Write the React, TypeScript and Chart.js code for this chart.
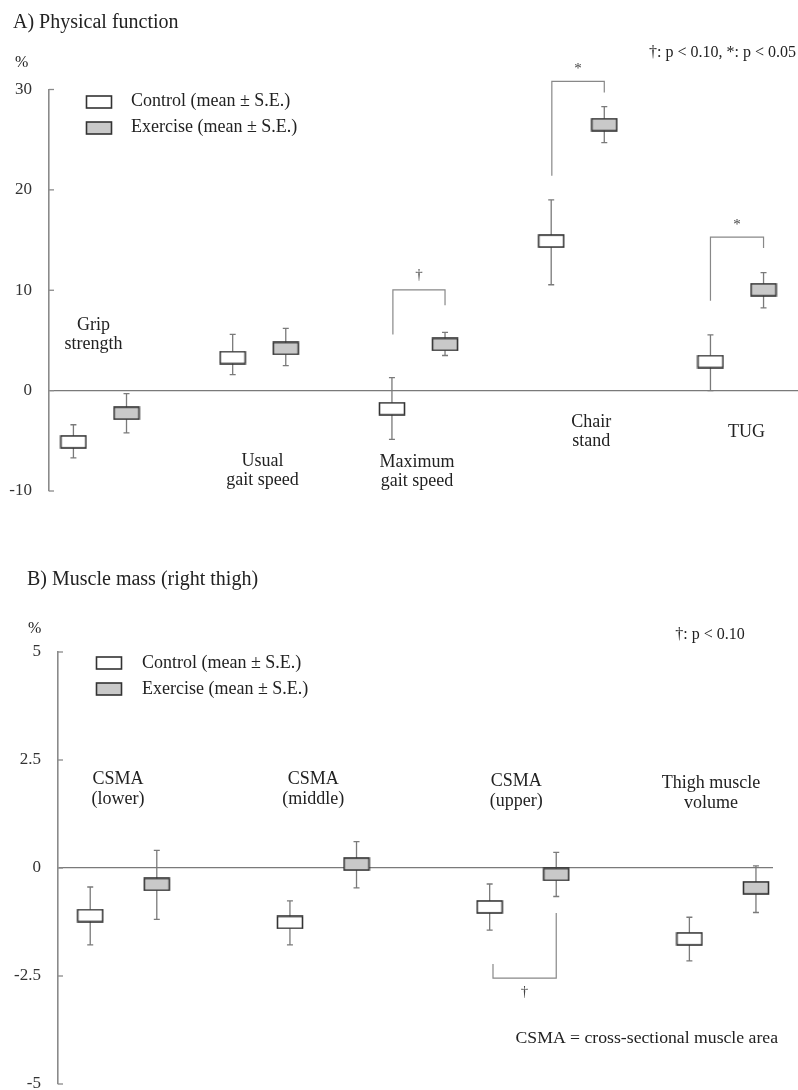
import React, { useEffect, useRef } from "react";
import { Chart, registerables } from "chart.js";

Chart.register(...registerables);

// ---------------- Panel A: Physical function ----------------
const categoriesA = [["Grip", "strength"], ["Usual", "gait speed"], ["Maximum", "gait speed"], ["Chair", "stand"], ["TUG"]];
const controlMeanA = [-5.1, 3.3, -1.8, 14.9, 2.9];
const controlLowA = [-6.7, 1.6, -4.85, 10.55, 0.0];
const controlHighA = [-3.4, 5.6, 1.3, 19.0, 5.55];
const exerciseMeanA = [-2.25, 4.2, 4.6, 26.5, 10.05];
const exerciseLowA = [-4.2, 2.5, 3.5, 24.7, 8.25];
const exerciseHighA = [-0.3, 6.2, 5.8, 28.3, 11.75];
const yTicksA = [-10, 0, 10, 20, 30];
const labelXA = [-0.04, 1.02, 1.99, 3.085, 4.06];
const labelYA = [6.5, -7.0, -7.1, -3.2, -4.1];
const bracketsA = [
  { from: 2 - 1 / 6 + 0.006, to: 2 + 1 / 6, top: 10.03, leftEnd: 5.6, rightEnd: 8.5, mark: "†", markY: 11.16 },
  { from: 3 - 1 / 6 + 0.004, to: 3 + 1 / 6, top: 30.8, leftEnd: 21.4, rightEnd: 29.7, mark: "*", markY: 31.67 },
  { from: 4 - 1 / 6, to: 4 + 1 / 6, top: 15.3, leftEnd: 8.96, rightEnd: 14.2, mark: "*", markY: 16.13 },
];

// ---------------- Panel B: Muscle mass ----------------
const categoriesB = [["CSMA", "(lower)"], ["CSMA", "(middle)"], ["CSMA", "(upper)"], ["Thigh muscle", "volume"]];
const controlMeanB = [-1.1, -1.26, -0.9, -1.64];
const controlLowB = [-1.78, -1.78, -1.44, -2.15];
const controlHighB = [-0.44, -0.76, -0.37, -1.14];
const exerciseMeanB = [-0.38, 0.09, -0.15, -0.46];
const exerciseLowB = [-1.19, -0.46, -0.66, -1.03];
const exerciseHighB = [0.41, 0.61, 0.36, 0.05];
const yTicksB = [-5, -2.5, 0, 2.5, 5];
const labelXB = [-0.028, 0.95, 1.967, 2.942];
const labelYB = [2.06, 2.06, 2.01, 1.97];
const bracketsB = [
  { from: 1.85, to: 2 + 1 / 6, top: -2.55, leftEnd: -2.22, rightEnd: -1.04, mark: "†", markY: -2.96 },
];

const seriesLabels = ["Control (mean ± S.E.)", "Exercise (mean ± S.E.)"];

const FONT = "'Liberation Serif', 'Times New Roman', serif";
const X_OFFSET = 1 / 6;
const AXIS_COLOR = "#8a8a8a";
const WHISKER_COLOR = "#7a7a7a";
const TEXT_COLOR = "#222";

function makeBox(fill: string) {
  const c = document.createElement("canvas");
  c.width = 28;
  c.height = 14;
  const g = c.getContext("2d")!;
  g.fillStyle = fill;
  g.fillRect(1.5, 1, 25, 12);
  g.strokeStyle = "#333";
  g.lineWidth = 1.6;
  g.strokeRect(1.5, 1, 25, 12);
  return c;
}

const errorBarsPlugin = {
  id: "errorBars",
  beforeDatasetsDraw(chart: any) {
    const { ctx } = chart;
    const x = chart.scales.x;
    const y = chart.scales.y;
    ctx.save();
    ctx.strokeStyle = WHISKER_COLOR;
    ctx.lineWidth = 1.3;
    chart.data.datasets.forEach((ds: any) => {
      ds.data.forEach((p: any) => {
        const px = x.getPixelForValue(p.x);
        const lo = y.getPixelForValue(p.lo);
        const hi = y.getPixelForValue(p.hi);
        ctx.beginPath();
        ctx.moveTo(px, lo);
        ctx.lineTo(px, hi);
        ctx.moveTo(px - 3, lo);
        ctx.lineTo(px + 3, lo);
        ctx.moveTo(px - 3, hi);
        ctx.lineTo(px + 3, hi);
        ctx.stroke();
      });
    });
    ctx.restore();
  },
};

type PanelCfg = {
  cats: string[][];
  cMean: number[]; cLow: number[]; cHigh: number[];
  eMean: number[]; eLow: number[]; eHigh: number[];
  yTicks: number[];
  labelX: number[]; labelY: number[];
  brackets: { from: number; to: number; top: number; leftEnd: number; rightEnd: number; mark: string; markY: number }[];
  xMin: number; xMax: number;
  axisW: number; padTop: number; padBottom: number; padRight: number;
  legendDX: number; legendDY: number; legendTextDX: number;
  labelLineH: number;
  draw: (ctx: CanvasRenderingContext2D) => void;
};

function buildChart(canvas: HTMLCanvasElement, P: PanelCfg) {
  const white = makeBox("#ffffff");
  const gray = makeBox("#c9c9c9");
  const annot = {
    id: "annot",
    afterDraw(chart: any) {
      const { ctx, chartArea } = chart;
      const x = chart.scales.x;
      const y = chart.scales.y;
      ctx.save();
      // inward tick marks
      ctx.strokeStyle = AXIS_COLOR;
      ctx.lineWidth = 1.3;
      y.ticks.forEach((t: any) => {
        const py = y.getPixelForValue(t.value);
        ctx.beginPath();
        ctx.moveTo(chartArea.left, py);
        ctx.lineTo(chartArea.left + 5, py);
        ctx.stroke();
      });
      // significance brackets
      ctx.strokeStyle = "#888";
      ctx.lineWidth = 1.2;
      P.brackets.forEach((b) => {
        const x1 = x.getPixelForValue(b.from);
        const x2 = x.getPixelForValue(b.to);
        const yt = y.getPixelForValue(b.top);
        ctx.beginPath();
        ctx.moveTo(x1, y.getPixelForValue(b.leftEnd));
        ctx.lineTo(x1, yt);
        ctx.lineTo(x2, yt);
        ctx.lineTo(x2, y.getPixelForValue(b.rightEnd));
        ctx.stroke();
        ctx.fillStyle = "#444";
        ctx.font = `15px ${FONT}`;
        ctx.textAlign = "center";
        ctx.textBaseline = "alphabetic";
        ctx.fillText(b.mark, (x1 + x2) / 2, y.getPixelForValue(b.markY));
      });
      // category labels
      ctx.fillStyle = TEXT_COLOR;
      ctx.font = `18px ${FONT}`;
      ctx.textAlign = "center";
      ctx.textBaseline = "middle";
      P.cats.forEach((lines, i) => {
        const px = x.getPixelForValue(P.labelX[i]);
        const py = y.getPixelForValue(P.labelY[i]);
        lines.forEach((ln, j) => ctx.fillText(ln, px, py + j * P.labelLineH));
      });
      // legend
      ctx.font = `18px ${FONT}`;
      ctx.textAlign = "left";
      chart.data.datasets.forEach((ds: any, i: number) => {
        const cx = chartArea.left + P.legendDX;
        const cy = chartArea.top + P.legendDY + i * 26;
        ctx.drawImage(ds.pointStyle, Math.round(cx - 14), Math.round(cy - 7));
        ctx.fillText(ds.label, chartArea.left + P.legendTextDX, cy);
      });
      P.draw(ctx);
      ctx.restore();
    },
  };

  return new Chart(canvas, {
    type: "scatter",
    data: {
      datasets: [
        {
          label: seriesLabels[0],
          data: P.cats.map((_, i) => ({ x: i - X_OFFSET, y: P.cMean[i], lo: P.cLow[i], hi: P.cHigh[i] })) as any,
          pointStyle: white as any,
          pointRadius: 6,
        },
        {
          label: seriesLabels[1],
          data: P.cats.map((_, i) => ({ x: i + X_OFFSET, y: P.eMean[i], lo: P.eLow[i], hi: P.eHigh[i] })) as any,
          pointStyle: gray as any,
          pointRadius: 6,
        },
      ],
    },
    options: {
      responsive: false,
      animation: false,
      events: [],
      layout: { autoPadding: false, padding: { left: 0, right: P.padRight, top: P.padTop, bottom: P.padBottom } },
      plugins: { legend: { display: false }, tooltip: { enabled: false } },
      scales: {
        x: { type: "linear", display: false, min: P.xMin, max: P.xMax },
        y: {
          type: "linear",
          min: P.yTicks[0],
          max: P.yTicks[P.yTicks.length - 1],
          afterBuildTicks: (s: any) => {
            s.ticks = P.yTicks.map((v) => ({ value: v }));
          },
          afterFit: (s: any) => {
            s.width = P.axisW;
          },
          ticks: {
            padding: 17,
            color: "#333",
            font: { family: FONT, size: 17 },
            callback: (v: any) => String(v),
          },
          grid: {
            drawTicks: false,
            color: (c: any) => (c.tick && c.tick.value === 0 ? "#7a7a7a" : "rgba(0,0,0,0)"),
            lineWidth: 1.3,
          },
          border: { display: true, color: AXIS_COLOR, width: 1.6 },
        } as any,
      },
    },
    plugins: [errorBarsPlugin, annot],
  } as any);
}

export default function App() {
  const refA = useRef<HTMLCanvasElement>(null);
  const refB = useRef<HTMLCanvasElement>(null);

  useEffect(() => {
    const chartA = buildChart(refA.current!, {
      cats: categoriesA,
      cMean: controlMeanA, cLow: controlLowA, cHigh: controlHighA,
      eMean: exerciseMeanA, eLow: exerciseLowA, eHigh: exerciseHighA,
      yTicks: yTicksA,
      labelX: labelXA, labelY: labelYA,
      brackets: bracketsA,
      xMin: -0.32, xMax: 4.383,
      axisW: 49, padTop: 89.5, padBottom: 54, padRight: 0,
      legendDX: 50, legendDY: 12, legendTextDX: 82,
      labelLineH: 19,
      draw: (ctx) => {
        ctx.fillStyle = TEXT_COLOR;
        ctx.textBaseline = "middle";
        ctx.textAlign = "left";
        ctx.font = `20px ${FONT}`;
        ctx.fillText("A) Physical function", 13, 23);
        ctx.font = `16px ${FONT}`;
        ctx.fillText("%", 15, 63);
        ctx.textAlign = "right";
        ctx.fillText("†: p < 0.10, *: p < 0.05", 796, 53);
      },
    });
    const chartB = buildChart(refB.current!, {
      cats: categoriesB,
      cMean: controlMeanB, cLow: controlLowB, cHigh: controlHighB,
      eMean: exerciseMeanB, eLow: exerciseLowB, eHigh: exerciseHighB,
      yTicks: yTicksB,
      labelX: labelXB, labelY: labelYB,
      brackets: bracketsB,
      xMin: -0.328, xMax: 3.252,
      axisW: 58, padTop: 107, padBottom: 61, padRight: 25,
      legendDX: 51, legendDY: 11, legendTextDX: 84,
      labelLineH: 20,
      draw: (ctx) => {
        ctx.fillStyle = TEXT_COLOR;
        ctx.textBaseline = "middle";
        ctx.textAlign = "left";
        ctx.font = `20px ${FONT}`;
        ctx.fillText("B) Muscle mass (right thigh)", 27, 35);
        ctx.font = `16px ${FONT}`;
        ctx.fillText("%", 28, 84);
        ctx.textAlign = "center";
        ctx.fillText("†: p < 0.10", 710, 90);
        ctx.textAlign = "right";
        ctx.font = `17.7px ${FONT}`;
        ctx.fillText("CSMA = cross-sectional muscle area", 778, 493);
      },
    });
    return () => {
      chartA.destroy();
      chartB.destroy();
    };
  }, []);

  return (
    <div style={{ position: "absolute", top: 0, left: 0, width: 798, height: 1090, overflow: "hidden", background: "#fff" }}>
      <canvas ref={refA} width={798} height={545} style={{ position: "absolute", top: 0, left: 0, display: "block" }} />
      <canvas ref={refB} width={798} height={600} style={{ position: "absolute", top: 545, left: 0, display: "block" }} />
    </div>
  );
}
